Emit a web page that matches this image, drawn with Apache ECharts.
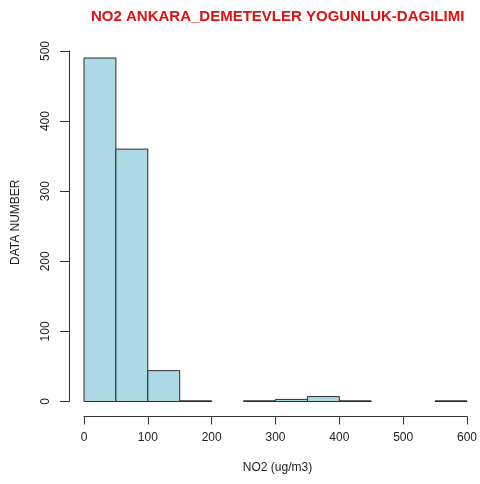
<!DOCTYPE html>
<html>
<head>
<meta charset="utf-8">
<script src="https://cdn.jsdelivr.net/npm/echarts@6/dist/echarts.min.js"></script>
<style>
  html, body { margin: 0; padding: 0; background: #fff; }
  #chart { width: 480px; height: 484px; }
</style>
</head>
<body>
<div id="chart"></div>
<script>
// Histogram bins (ug/m3) and number of hourly readings in each
const binStart = [0, 50, 100, 150, 200, 250, 300, 350, 400, 450, 500, 550];
const binEnd   = [50, 100, 150, 200, 250, 300, 350, 400, 450, 500, 550, 600];
const counts   = [490, 360, 44, 1, 0, 1, 3, 7, 1, 0, 0, 1];

const xTicks = [0, 100, 200, 300, 400, 500, 600];
const yTicks = [0, 100, 200, 300, 400, 500];

const bins = binStart.map((s, i) => [s, binEnd[i], counts[i]]);

const FONT = '"Liberation Sans", Arial, Helvetica, sans-serif';
const chart = echarts.init(document.getElementById('chart'));

chart.setOption({
  animation: false,
  backgroundColor: '#ffffff',
  title: {
    text: 'NO2 ANKARA_DEMETEVLER YOGUNLUK-DAGILIMI',
    left: 86,
    top: 4,
    textStyle: { color: '#dd1111', fontSize: 15, fontWeight: 'bold', fontFamily: FONT }
  },
  grid: { left: 84, right: 8, top: 51, bottom: 82.5 },
  xAxis: {
    type: 'value',
    min: xTicks[0],
    max: xTicks[xTicks.length - 1],
    interval: 100,
    offset: 15,
    name: 'NO2 (ug/m3)',
    nameLocation: 'middle',
    nameGap: 45,
    nameTextStyle: { color: '#222', fontSize: 12, fontFamily: FONT, padding: [0, 0, 0, 4] },
    axisLine: { show: true, onZero: false, lineStyle: { color: '#333', width: 1 } },
    axisTick: { show: true, length: 8, lineStyle: { color: '#333' } },
    axisLabel: { color: '#222', fontSize: 12, fontFamily: FONT, margin: 15 },
    splitLine: { show: false }
  },
  yAxis: {
    type: 'value',
    min: yTicks[0],
    max: yTicks[yTicks.length - 1],
    interval: 100,
    offset: 15,
    name: 'DATA NUMBER',
    nameLocation: 'middle',
    nameGap: 47,
    nameRotate: 90,
    nameTextStyle: { color: '#222', fontSize: 12, fontFamily: FONT, padding: [0, 0, 0, 8] },
    axisLine: { show: true, onZero: false, lineStyle: { color: '#333', width: 1 } },
    axisTick: { show: true, length: 9, lineStyle: { color: '#333' } },
    axisLabel: { color: '#222', fontSize: 12, fontFamily: FONT, rotate: 90, margin: 17 },
    splitLine: { show: false }
  },
  series: [{
    type: 'custom',
    data: bins,
    encode: { x: [0, 1], y: 2 },
    renderItem: function (params, api) {
      const h = api.value(2);
      if (!h) return null;
      const p0 = api.coord([api.value(0), h]);
      const p1 = api.coord([api.value(1), 0]);
      return {
        type: 'rect',
        shape: { x: p0[0], y: p0[1], width: p1[0] - p0[0], height: p1[1] - p0[1] },
        style: { fill: '#add8e6', stroke: '#2b2b2b', lineWidth: 1 }
      };
    }
  }]
});
</script>
</body>
</html>
